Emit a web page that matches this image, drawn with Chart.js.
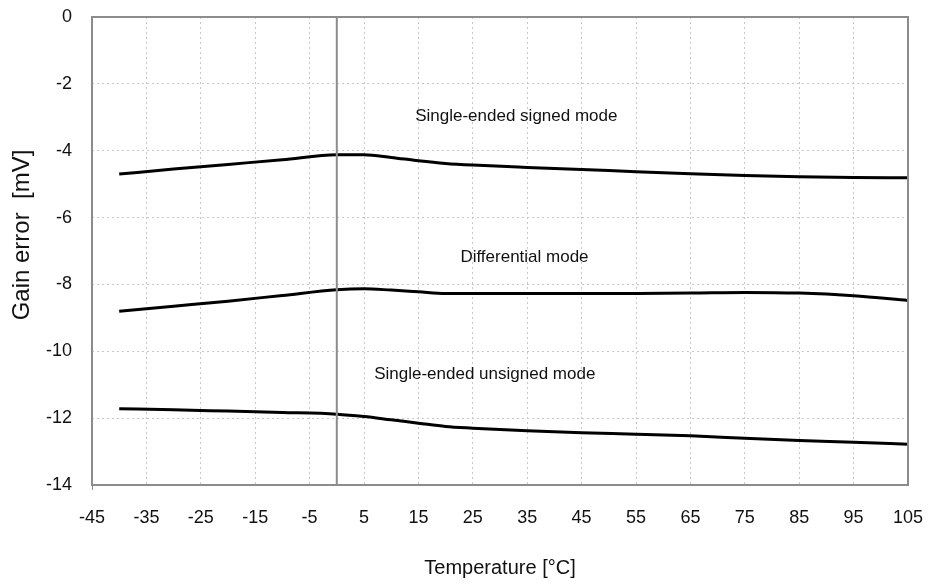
<!DOCTYPE html>
<html>
<head>
<meta charset="utf-8">
<script src="https://cdn.jsdelivr.net/npm/chart.js@4.4.1/dist/chart.umd.min.js"></script>
<style>
  body { margin: 0; background: #fff; }
  #wrap { width: 928px; height: 584px; }
</style>
</head>
<body>
<div id="wrap"><canvas id="gainChart" width="928" height="584"></canvas></div>
<script>
// temperatures in °C
const temps = [-40, -30, -20, -10, 0, 5, 10, 15, 20, 25, 35, 45, 55, 65, 75, 85, 95, 105];
// gain error in mV
const signedMode = [-4.70, -4.55, -4.41, -4.27, -4.12, -4.12, -4.20, -4.30, -4.38, -4.43, -4.50, -4.56, -4.63, -4.69, -4.74, -4.78, -4.80, -4.81];
const diffMode = [-8.80, -8.65, -8.50, -8.33, -8.16, -8.13, -8.17, -8.22, -8.27, -8.27, -8.27, -8.27, -8.27, -8.26, -8.24, -8.26, -8.34, -8.48];
const unsignedMode = [-11.72, -11.75, -11.79, -11.83, -11.88, -11.95, -12.05, -12.15, -12.25, -12.30, -12.38, -12.44, -12.48, -12.53, -12.60, -12.67, -12.72, -12.78];
// zero line
const zeroLineX = [0, 0];
const zeroLineY = [0, -14];
// curve labels: text, temperature, gain error
const labelTexts = ['Single-ended signed mode', 'Differential mode', 'Single-ended unsigned mode'];
const labelX = [33, 34.5, 27.2];
const labelY = [-2.96, -7.19, -10.7];

const FONT = "'Liberation Sans', Arial, sans-serif";

const toPoints = (xs, ys) => xs.map((x, i) => ({x: x, y: ys[i]}));

const curve = (label, ys) => ({
  label: label,
  data: toPoints(temps, ys),
  borderColor: '#000',
  borderWidth: 3,
  pointRadius: 0,
  cubicInterpolationMode: 'monotone',
  fill: false
});

const frameAndLabels = {
  id: 'frameAndLabels',
  afterDatasetsDraw(chart) {
    const {ctx, chartArea: a, scales} = chart;
    ctx.save();
    ctx.strokeStyle = '#8c8c8c';
    ctx.lineWidth = 2;
    ctx.strokeRect(a.left, a.top, a.right - a.left, a.bottom - a.top);
    // small tick below the corner
    ctx.lineWidth = 1;
    ctx.beginPath();
    ctx.moveTo(a.left + 0.5, a.bottom);
    ctx.lineTo(a.left + 0.5, a.bottom + 5);
    ctx.stroke();
    ctx.fillStyle = '#111';
    ctx.font = '17px ' + FONT;
    ctx.textAlign = 'center';
    ctx.textBaseline = 'middle';
    labelTexts.forEach((t, i) => {
      ctx.fillText(t, scales.x.getPixelForValue(labelX[i]), scales.y.getPixelForValue(labelY[i]));
    });
    // y axis title
    ctx.translate(22, (a.top + a.bottom) / 2 - 16);
    ctx.rotate(-Math.PI / 2);
    ctx.font = '24px ' + FONT;
    ctx.fillText('Gain error  [mV]', 0, 0);
    ctx.restore();
  }
};

new Chart(document.getElementById('gainChart').getContext('2d'), {
  type: 'line',
  data: {
    datasets: [
      {
        label: 'zero',
        data: toPoints(zeroLineX, zeroLineY),
        borderColor: '#8c8c8c',
        borderWidth: 2,
        pointRadius: 0
      },
      curve('Single-ended signed mode', signedMode),
      curve('Differential mode', diffMode),
      curve('Single-ended unsigned mode', unsignedMode)
    ]
  },
  options: {
    responsive: false,
    animation: false,
    layout: { padding: { top: 17, right: 20, left: 0, bottom: 0 } },
    plugins: {
      legend: { display: false },
      tooltip: { enabled: false }
    },
    scales: {
      x: {
        type: 'linear',
        min: -45,
        max: 105,
        ticks: { stepSize: 10, color: '#111', padding: 2, font: { family: FONT, size: 18 } },
        grid: {
          color: '#c8c8c8',
          lineWidth: 1,
          drawTicks: true,
          tickLength: 20,
          tickColor: 'transparent'
        },
        border: { display: false, dash: [2, 3] },
        title: {
          display: true,
          text: 'Temperature [°C]',
          color: '#111',
          font: { family: FONT, size: 20 },
          padding: { top: 0, bottom: 4 }
        },
        afterFit(scale) { scale.height = 99; }
      },
      y: {
        min: -14,
        max: 0,
        ticks: { stepSize: 2, color: '#111', padding: 2, font: { family: FONT, size: 18 } },
        grid: {
          color: '#c8c8c8',
          lineWidth: 1,
          drawTicks: true,
          tickLength: 18,
          tickColor: 'transparent'
        },
        border: { display: false, dash: [2, 3] },
        afterFit(scale) { scale.width = 92; }
      }
    }
  },
  plugins: [frameAndLabels]
});
</script>
</body>
</html>
